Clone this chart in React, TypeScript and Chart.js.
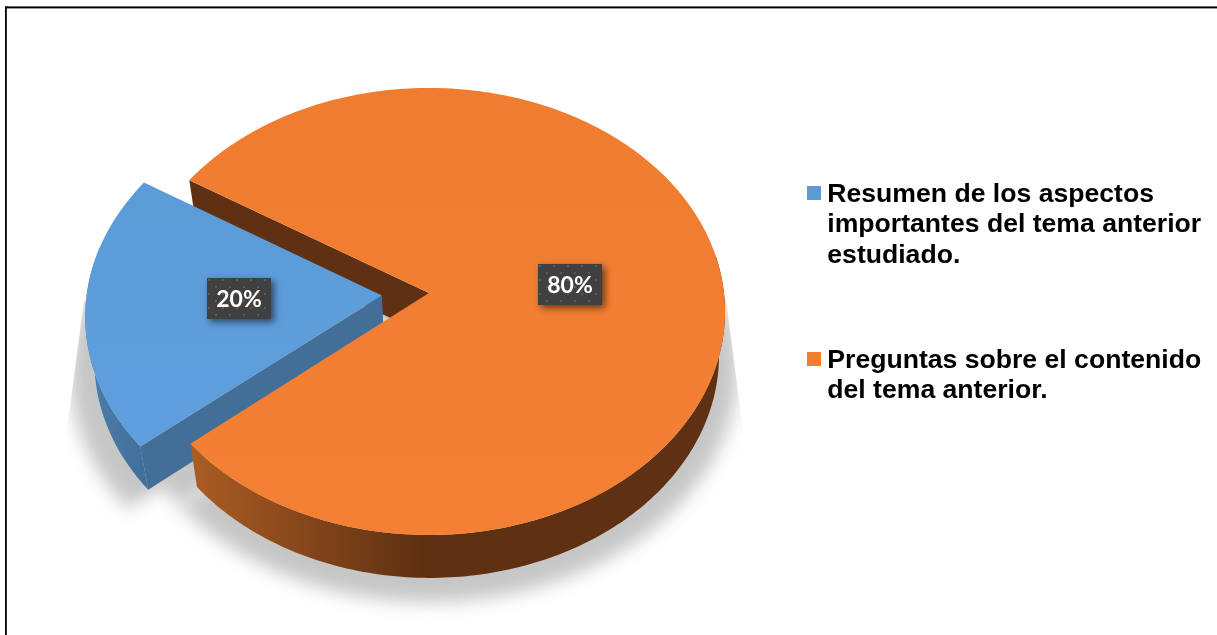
import React, { useEffect, useRef } from "react";
import { Chart, registerables } from "chart.js";

Chart.register(...registerables);

const categories = [
  ["Resumen de los aspectos", "importantes del tema anterior", "estudiado."],
  ["Preguntas sobre el contenido", "del tema anterior."],
];
const values = [20, 80];
const percentLabels = ["20%", "80%"];
const sliceColors = ["#5B9BD6", "#F27E30"];
const explodeAmount = [0.16, 0];
const labelNudge = [[-1, -4], [0, -1]];

const topFace = { ax: 429, ay: 293, R: 295, S: 222, k: -0.0826 };
const baseFace = { ax: 430, ay: 337, R: 288, S: 221, k: -0.0826 };
const shadowFace = { ax: 429, ay: 347, R: 308, S: 234, k: -0.0826 };
const ORANGE_DARK = "#5F3112";
const BLUE_WALL = "#426E98";

type Face = { ax: number; ay: number; R: number; S: number; k: number };
type Pt = [number, number];

const project = (f: Face, u: number, v: number): Pt => {
  const w = 1 + f.k * v;
  return [f.ax + (f.R * u) / w, f.ay + (f.S * v) / w];
};

function arcUnit(start: number, end: number, e: Pt): Pt[] {
  const n = Math.max(8, Math.ceil(((end - start) * 180) / Math.PI));
  const out: Pt[] = [];
  for (let i = 0; i <= n; i++) {
    const t = start + ((end - start) * i) / n;
    out.push([e[0] + Math.cos(t), e[1] + Math.sin(t)]);
  }
  return out;
}

function tracePolygon(ctx: CanvasRenderingContext2D, pts: Pt[]) {
  ctx.beginPath();
  pts.forEach((p, i) => (i ? ctx.lineTo(p[0], p[1]) : ctx.moveTo(p[0], p[1])));
  ctx.closePath();
}

function slicePolygon(f: Face, start: number, end: number, e: Pt): Pt[] {
  return [project(f, e[0], e[1]), ...arcUnit(start, end, e).map((p) => project(f, p[0], p[1]))];
}

function ribbon(start: number, end: number, e: Pt): Pt[] {
  const a = arcUnit(start, end, e);
  return [
    ...a.map((p) => project(topFace, p[0], p[1])),
    ...a.slice().reverse().map((p) => project(baseFace, p[0], p[1])),
  ];
}

function edgeWall(angle: number, e: Pt): Pt[] {
  const c: Pt = [e[0] + Math.cos(angle), e[1] + Math.sin(angle)];
  return [
    project(topFace, e[0], e[1]),
    project(topFace, c[0], c[1]),
    project(baseFace, c[0], c[1]),
    project(baseFace, e[0], e[1]),
  ];
}

function dotPattern(ctx: CanvasRenderingContext2D) {
  const c = document.createElement("canvas");
  c.width = 14;
  c.height = 14;
  const p = c.getContext("2d")!;
  p.fillStyle = "#404040";
  p.fillRect(0, 0, 14, 14);
  p.fillStyle = "#5A5A5A";
  p.fillRect(1, 1, 2, 2);
  p.fillRect(8, 8, 2, 2);
  return ctx.createPattern(c, "repeat")!;
}

const piePlugin = {
  id: "perspectivePie",
  afterLayout(chart: any) {
    const pad = chart.options.plugins.legend.labels.padding;
    chart.legend.left = 807 - pad;
    chart.legend.top = 181 - pad;
  },
  beforeDatasetsDraw(chart: any) {
    const ctx: CanvasRenderingContext2D = chart.ctx;
    const arcs = chart.getDatasetMeta(0).data.map((el: any, i: number) => {
      const g = el.getProps(["startAngle", "endAngle"]);
      const mid = (g.startAngle + g.endAngle) / 2;
      const e: Pt = [explodeAmount[i] * Math.cos(mid), explodeAmount[i] * Math.sin(mid)];
      return { start: g.startAngle, end: g.endAngle, mid, e };
    });
    const [blue, orange] = arcs;

    ctx.save();
    // frame
    ctx.fillStyle = "#000";
    ctx.fillRect(5, 6.4, 1212, 2);
    ctx.fillRect(5, 6.4, 1.8, 629);

    // soft cast shadow, with the gap between the slices closed
    ctx.save();
    ctx.beginPath();
    [[726, 300], [745, 445], [760, 635], [50, 635], [65, 445], [84, 300]].forEach((p, i) =>
      i ? ctx.lineTo(p[0], p[1]) : ctx.moveTo(p[0], p[1])
    );
    ctx.closePath();
    ctx.clip();
    (ctx as any).filter = "blur(9px)";
    ctx.fillStyle = "#C6C6C6";
    arcs.forEach((a: any) => {
      tracePolygon(ctx, slicePolygon(shadowFace, a.start, a.end, a.e));
      ctx.fill();
    });
    tracePolygon(ctx, slicePolygon(shadowFace, blue.start, blue.end, [0, 0]));
    ctx.fill();
    (ctx as any).filter = "none";
    ctx.restore();

    // notch wall of the large slice
    ctx.fillStyle = ORANGE_DARK;
    tracePolygon(ctx, edgeWall(orange.start, orange.e));
    ctx.fill();

    // blue slice walls
    ctx.fillStyle = BLUE_WALL;
    tracePolygon(ctx, edgeWall(blue.start, blue.e));
    ctx.fill();
    const blueGrad = ctx.createLinearGradient(85, 0, 150, 0);
    blueGrad.addColorStop(0, "#4A7DAE");
    blueGrad.addColorStop(1, BLUE_WALL);
    ctx.fillStyle = blueGrad;
    tracePolygon(ctx, ribbon(blue.start, blue.mid + 0.3, blue.e));
    ctx.fill();

    // blue top
    const bt = ctx.createLinearGradient(0, 180, 0, 450);
    bt.addColorStop(0, sliceColors[0]);
    bt.addColorStop(1, "#5F9FDE");
    ctx.fillStyle = bt;
    tracePolygon(ctx, slicePolygon(topFace, blue.start, blue.end, blue.e));
    ctx.fill();

    // orange front wall
    const og = ctx.createLinearGradient(190, 0, 420, 0);
    og.addColorStop(0, "#AB5C23");
    og.addColorStop(1, ORANGE_DARK);
    ctx.fillStyle = og;
    tracePolygon(ctx, ribbon(orange.end - (2 * Math.PI * 150) / 360, orange.end, orange.e));
    ctx.fill();

    // orange top
    const ot = ctx.createLinearGradient(0, 88, 0, 535);
    ot.addColorStop(0, "#F07D2F");
    ot.addColorStop(1, "#F48033");
    ctx.fillStyle = ot;
    tracePolygon(ctx, slicePolygon(topFace, orange.start, orange.end, orange.e));
    ctx.fill();

    // data labels
    const pattern = dotPattern(ctx);
    arcs.forEach((a: any, i: number) => {
      const [x, y] = project(
        topFace,
        a.e[0] + 0.48 * Math.cos(a.mid),
        a.e[1] + 0.48 * Math.sin(a.mid)
      );
      const w = 64;
      const h = 41;
      const left = Math.round(x - w / 2 + labelNudge[i][0]);
      const top = Math.round(y - h / 2 + labelNudge[i][1]);
      ctx.save();
      ctx.shadowColor = "rgba(0,0,0,0.55)";
      ctx.shadowBlur = 7;
      ctx.shadowOffsetX = 3;
      ctx.shadowOffsetY = 3;
      ctx.fillStyle = "#404040";
      ctx.fillRect(left, top, w, h);
      ctx.restore();
      ctx.save();
      ctx.translate(left, top);
      ctx.fillStyle = pattern;
      ctx.fillRect(0, 0, w, h);
      ctx.restore();
      ctx.fillStyle = "#FFFFFF";
      ctx.font = "bold 23px Lato";
      ctx.textAlign = "center";
      ctx.textBaseline = "middle";
      ctx.fillText(percentLabels[i], left + w / 2, top + h / 2 + 1);
    });
    ctx.restore();
    return false;
  },
  afterDraw(chart: any) {
    const ctx: CanvasRenderingContext2D = chart.ctx;
    const lab = chart.options.plugins.legend.labels;
    const lh = lab.font.size * lab.font.lineHeight;
    let y = chart.legend.top + lab.padding;
    categories.forEach((lines, i) => {
      ctx.fillStyle = sliceColors[i];
      ctx.fillRect(chart.legend.left + lab.padding, y + 5, 14, 14);
      y += lines.length * lh + lab.padding;
    });
  },
};

export default function App() {
  const ref = useRef<HTMLCanvasElement>(null);
  useEffect(() => {
    document.body.style.margin = "0";
    const chart = new Chart(ref.current!, {
      type: "pie",
      data: {
        labels: categories as any,
        datasets: [{ data: values, backgroundColor: sliceColors, borderWidth: 0 }],
      },
      options: {
        responsive: false,
        animation: false,
        rotation: 230,
        plugins: {
          tooltip: { enabled: false },
          legend: {
            position: "right",
            align: "start",
            labels: {
              boxWidth: 7,
              boxHeight: 14,
              padding: 74,
              color: "#000",
              font: { family: "'Liberation Sans'", weight: "bold", size: 26.6, lineHeight: 1.153 },
              generateLabels: (c: any) =>
                c.data.labels.map((text: string[], i: number) => ({
                  text,
                  fillStyle: "transparent",
                  strokeStyle: "transparent",
                  lineWidth: 0,
                  index: i,
                })),
            },
          },
        },
      } as any,
      plugins: [piePlugin as any],
    });
    return () => chart.destroy();
  }, []);
  return <canvas ref={ref} width={1217} height={635} style={{ display: "block", width: 1217, height: 635 }} />;
}
